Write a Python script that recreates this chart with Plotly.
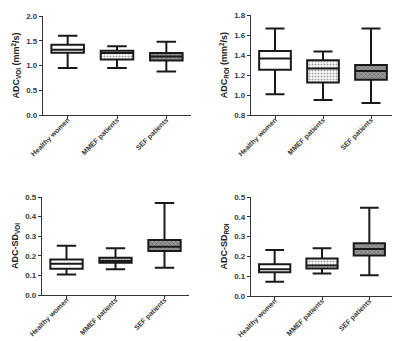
import plotly.graph_objects as go

categories = ["Healthy women", "MMEF patients", "SEF patients"]

# panel 1: ADC VOI
p1_low = [0.95, 0.95, 0.88]
p1_q1 = [1.26, 1.12, 1.10]
p1_med = [1.32, 1.25, 1.18]
p1_q3 = [1.42, 1.30, 1.25]
p1_high = [1.60, 1.39, 1.48]

# panel 2: ADC ROI
p2_low = [1.008, 0.951, 0.92]
p2_q1 = [1.253, 1.125, 1.152]
p2_med = [1.364, 1.266, 1.24]
p2_q3 = [1.44, 1.347, 1.30]
p2_high = [1.666, 1.434, 1.666]

# panel 3: ADC-SD VOI
p3_low = [0.105, 0.132, 0.139]
p3_q1 = [0.134, 0.164, 0.224]
p3_med = [0.159, 0.175, 0.246]
p3_q3 = [0.181, 0.19, 0.281]
p3_high = [0.251, 0.239, 0.469]

# panel 4: ADC-SD ROI
p4_low = [0.072, 0.114, 0.105]
p4_q1 = [0.12, 0.139, 0.204]
p4_med = [0.135, 0.154, 0.237]
p4_q3 = [0.16, 0.189, 0.266]
p4_high = [0.232, 0.241, 0.446]

titles = ["ADC<sub>VOI</sub> (mm<sup>2</sup>/s)", "ADC<sub>ROI</sub> (mm<sup>2</sup>/s)",
          "ADC-SD<sub>VOI</sub>", "ADC-SD<sub>ROI</sub>"]
yranges = [[0, 2.0], [0.8, 1.8], [0, 0.5], [0, 0.5]]
dticks = [0.5, 0.2, 0.1, 0.1]

panels = [
    (p1_low, p1_q1, p1_med, p1_q3, p1_high),
    (p2_low, p2_q1, p2_med, p2_q3, p2_high),
    (p3_low, p3_q1, p3_med, p3_q3, p3_high),
    (p4_low, p4_q1, p4_med, p4_q3, p4_high),
]

W, H = 400, 341
# pixel boxes: (x0, x1, ytop, ybottom)
pix = [(35, 183, 8, 107), (243, 387, 7, 107), (34, 181, 189, 287), (243, 385, 189, 288)]

fig = go.Figure()
font_fam = "Liberation Sans, Arial, sans-serif"
for i, (lo, q1, med, q3, hi) in enumerate(panels):
    n = "" if i == 0 else str(i + 1)
    xa, ya = "x" + n, "y" + n
    fig.add_trace(go.Bar(
        x=categories, y=[b - a for a, b in zip(q1, q3)], base=q1,
        width=0.66, xaxis=xa, yaxis=ya, showlegend=False, hoverinfo="skip",
        marker=dict(color=["white", "white", "#999999"], line=dict(width=0),
                    pattern=dict(shape=["", ".", "x"],
                                 fgcolor=["white", "#a0a0a0", "#333333"],
                                 bgcolor=["white", "#f4f4f4", "#b4b4b4"],
                                 size=3, solidity=0.4)),
    ))
    fig.add_trace(go.Box(
        x=categories, q1=q1, median=med, q3=q3, lowerfence=lo, upperfence=hi,
        xaxis=xa, yaxis=ya, width=0.66, whiskerwidth=0.6,
        fillcolor="rgba(0,0,0,0)", line=dict(color="#1a1a1a", width=2),
        showlegend=False,
    ))
    x0, x1, yt, yb = pix[i]
    axis_common = dict(showline=True, linecolor="#333", linewidth=1.3,
                       ticks="outside", ticklen=3, tickcolor="#333",
                       showgrid=False, zeroline=False, automargin=False)
    fig.update_layout(**{
        ("xaxis" + n): dict(domain=[x0 / W, x1 / W], anchor=ya, range=[-0.5, 2.5],
                            tickangle=-45, ticklabelstandoff=-6,
                            tickfont=dict(size=7, color="#3a3a3a", family=font_fam,
                                          weight="bold"),
                            **axis_common),
        ("yaxis" + n): dict(domain=[1 - yb / H, 1 - yt / H], anchor=xa,
                            range=yranges[i], dtick=dticks[i], tickformat=".1f",
                            tickfont=dict(size=8, color="#3a3a3a", family=font_fam,
                                          weight="bold"),
                            title=dict(text=titles[i], standoff=4,
                                       font=dict(size=9, color="#222", family=font_fam,
                                                 weight="bold")),
                            **axis_common),
    })

fig.update_layout(width=W, height=H, margin=dict(l=0, r=0, t=0, b=0, autoexpand=False),
                  paper_bgcolor="white", plot_bgcolor="white",
                  barmode="overlay", boxmode="overlay")
fig.write_html("out.html")
